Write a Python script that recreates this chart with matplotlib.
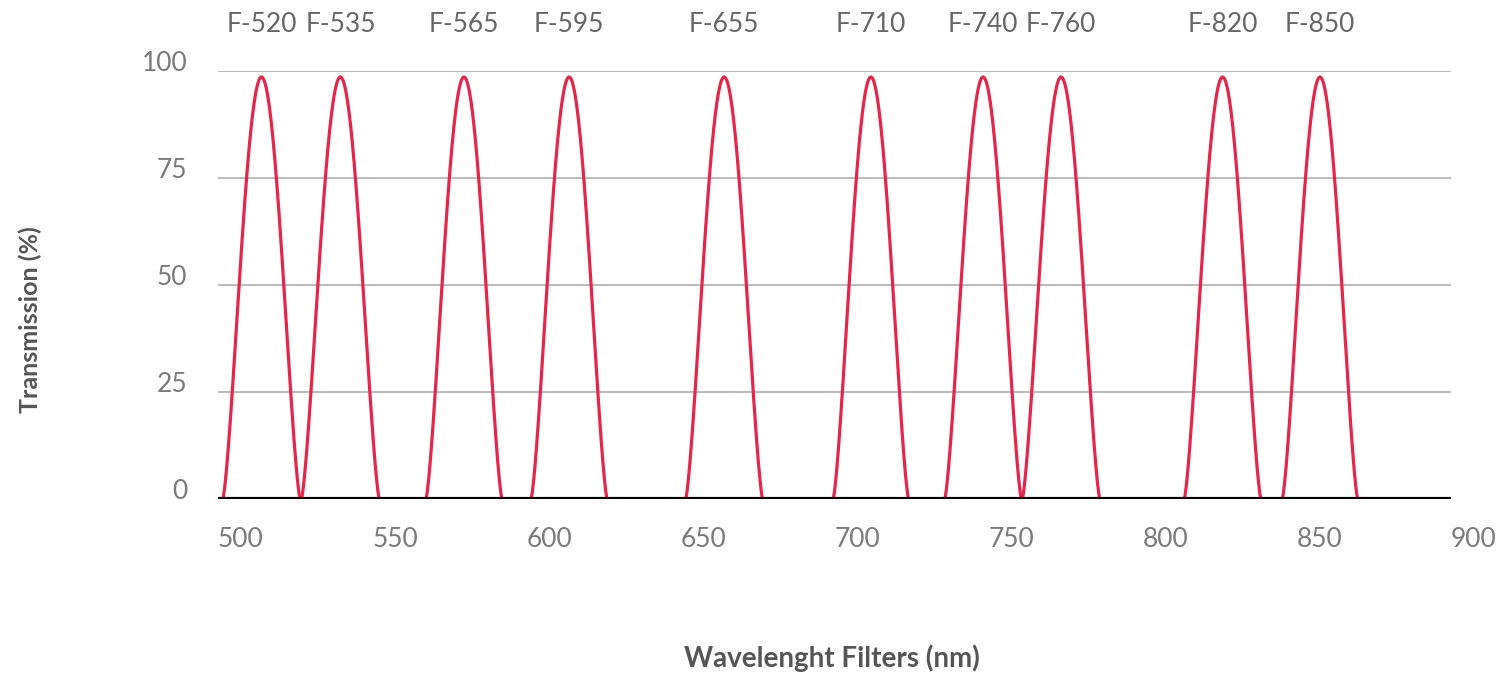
import matplotlib
matplotlib.use('Agg')
import matplotlib.pyplot as plt
import numpy as np

# Filtros: nombre, centro del pico (nm), ancho de base (nm), transmisión máxima (%)
filtros = ['F-520', 'F-535', 'F-565', 'F-595', 'F-655',
           'F-710', 'F-740', 'F-760', 'F-820', 'F-850']
centros = [514.1, 539.7, 579.8, 613.9, 664.2, 711.8, 748.2, 773.5, 825.9, 857.5]
anchos = [25.1, 25.3, 24.7, 24.7, 25.0, 24.5, 24.9, 25.2, 24.9, 24.5]
picos = [98.6, 98.6, 98.6, 98.6, 98.6, 98.6, 98.6, 98.6, 98.6, 98.6]

x_ticks = [500, 550, 600, 650, 700, 750, 800, 850, 900]
y_ticks = [0, 25, 50, 75, 100]

plt.rcParams['font.family'] = ['Lato', 'DejaVu Sans']

fig = plt.figure(figsize=(15.04, 6.74), dpi=100)
ax = fig.add_axes([218 / 1504, 1 - 499 / 674, 1233 / 1504, 428 / 674])

rojo = '#e5254c'
for c, w, p in zip(centros, anchos, picos):
    xs = np.linspace(c - w / 2, c + w / 2, 300)
    ys = p * np.cos(np.pi * (xs - c) / w) ** 1.4
    ax.plot(xs, ys, color=rojo, lw=2.3, solid_capstyle='round', zorder=3)

# grilla horizontal
for yv in y_ticks[1:]:
    ax.axhline(yv, color='#a8a8a8', lw=1.1, zorder=1)
ax.axhline(0, color='black', lw=3.0, zorder=4)

ax.set_xlim(500, 900)
ax.set_ylim(0, 100)
for s in ax.spines.values():
    s.set_visible(False)

ax.set_xticks(x_ticks)
ax.set_xticklabels([str(v) for v in x_ticks], ha='left', color='#7a7a7a',
                   fontsize=19)
ax.set_yticks(y_ticks)
ax.set_yticklabels([str(v) for v in y_ticks], va='baseline', color='#7a7a7a',
                   fontsize=19)
ax.tick_params(axis='x', length=0, pad=20)
ax.tick_params(axis='y', length=0, pad=22)

# etiquetas de los filtros arriba
for nombre, c in zip(filtros, centros):
    ax.text(c, 109.1, nombre, ha='center', va='baseline', fontsize=19,
            color='#666666', clip_on=False)

fig.text(30 / 1504, 1 - 320 / 674, 'Transmission (%)', rotation=90,
         ha='center', va='center', fontsize=18, fontweight='bold', color='#555555')
fig.text(832 / 1504, 1 - 658 / 674, 'Wavelenght Filters (nm)',
         ha='center', va='center', fontsize=20, fontweight='bold', color='#555555')

fig.savefig('out.png', dpi=100, facecolor='white')
